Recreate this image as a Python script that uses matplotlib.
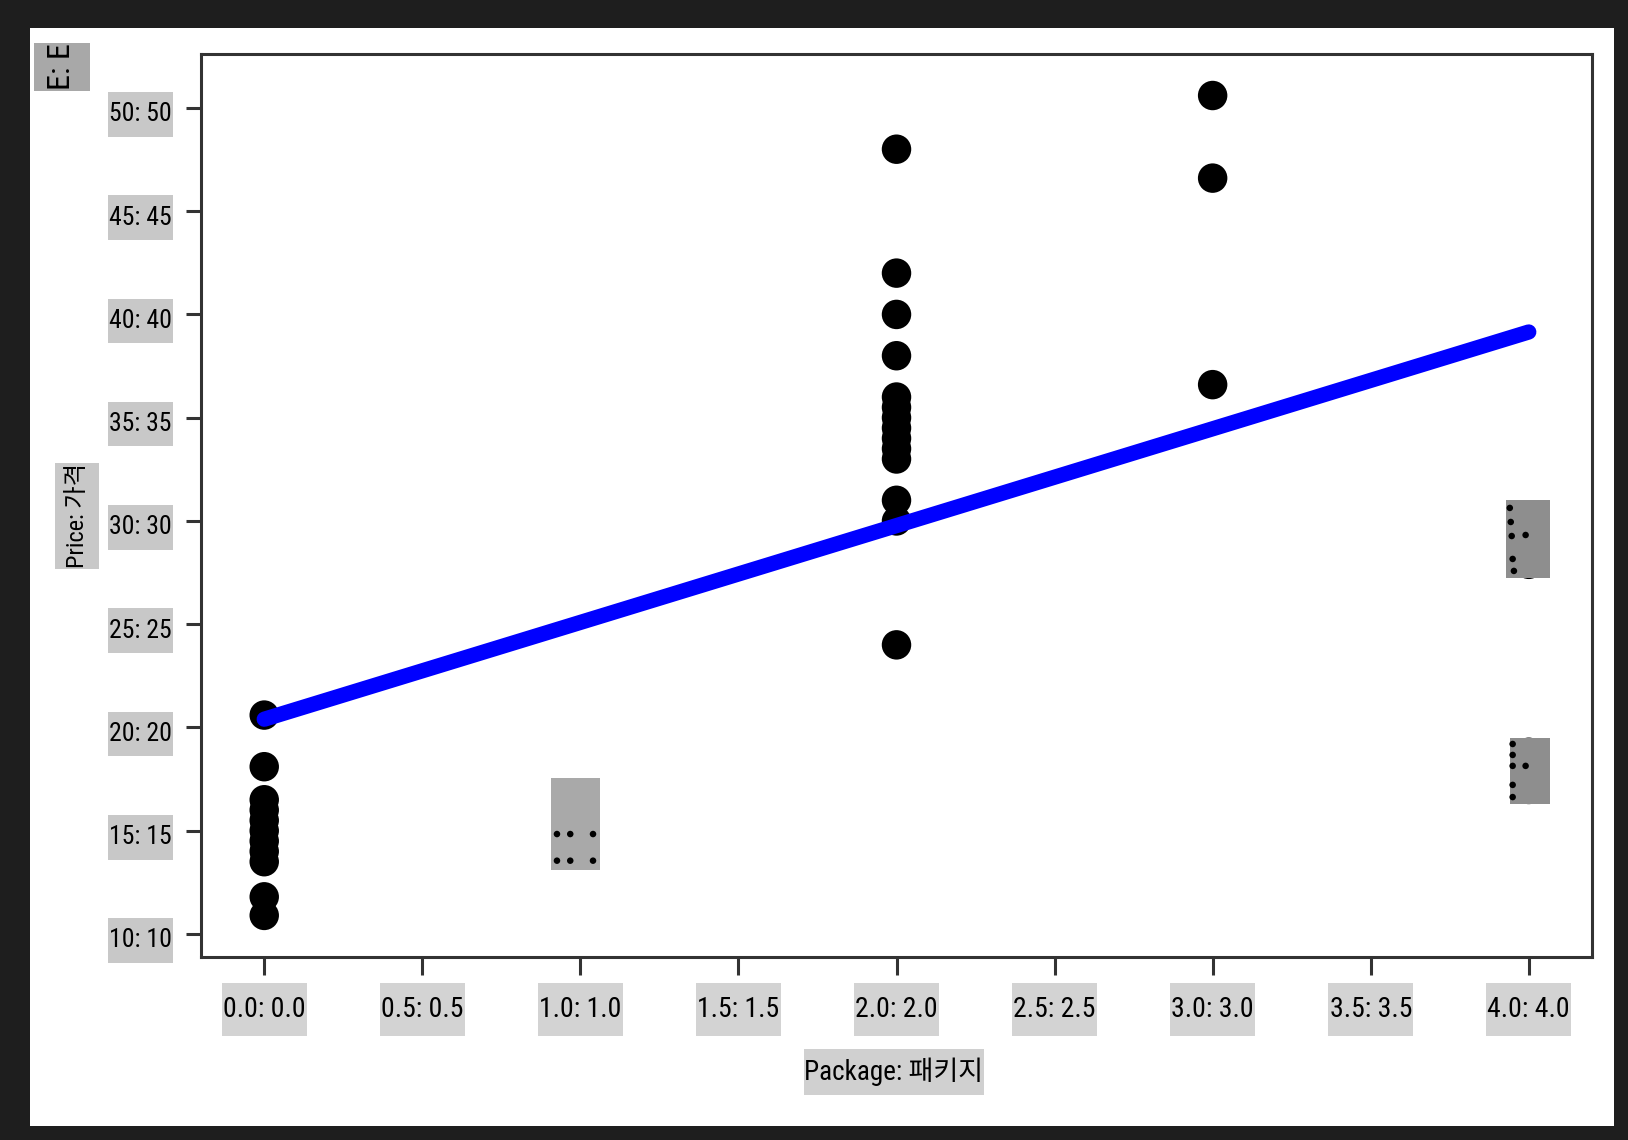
import logging
import matplotlib
matplotlib.use("Agg")
import matplotlib.pyplot as plt
from matplotlib import font_manager as fm
from matplotlib import transforms as mtransforms
from matplotlib.patches import Rectangle
from matplotlib.path import Path

logging.getLogger("matplotlib.font_manager").setLevel(logging.ERROR)

# ---------------- data ----------------
price_pkg0 = [20.6, 18.1, 16.5, 16.0, 15.5, 15.0, 14.5, 14.0, 13.5, 11.8, 10.9]
price_pkg1 = [15.5, 14.5]
price_pkg2 = [48.0, 42.0, 40.0, 38.0, 36.0, 35.5, 35.0, 34.5, 34.0, 33.5, 33.0, 31.0, 30.0, 24.0]
price_pkg3 = [50.6, 46.6, 36.6]
price_pkg4 = [30.0, 29.0, 27.9, 18.8, 18.0, 17.0]
package_levels = [0.0, 1.0, 2.0, 3.0, 4.0]

fit_x = [0.0, 4.0]
fit_y = [20.4, 39.15]

xticks = [0.0, 0.5, 1.0, 1.5, 2.0, 2.5, 3.0, 3.5, 4.0]
xtick_labels = ["0.0: 0.0", "0.5: 0.5", "1.0: 1.0", "1.5: 1.5", "2.0: 2.0",
                "2.5: 2.5", "3.0: 3.0", "3.5: 3.5", "4.0: 4.0"]
yticks = [10, 15, 20, 25, 30, 35, 40, 45, 50]
ytick_labels = ["10: 10", "15: 15", "20: 20", "25: 25", "30: 30",
                "35: 35", "40: 40", "45: 45", "50: 50"]

x_label = "Package: 패키지"
y_label = "Price: 가격"
corner_label = "E: E"

# overlay boxes (translation artifacts) in data units: x0, x1, y0, y1
overlay_box_x0 = [0.907, 3.927, 3.940]
overlay_box_x1 = [1.062, 4.066, 4.066]
overlay_box_y0 = [13.1, 27.24, 16.3]
overlay_box_y1 = [17.55, 31.02, 19.49]
overlay_box_col = ["#a9a9a9", "#8e8e8e", "#8e8e8e"]
overlay_dot_x = [0.926, 0.968, 1.040, 0.926, 0.968, 1.040,
                 3.940, 3.943, 3.946, 3.990, 3.949, 3.953,
                 3.949, 3.949, 3.949, 3.990, 3.949, 3.949]
overlay_dot_y = [14.84, 14.84, 14.84, 13.55, 13.55, 13.55,
                 30.63, 29.95, 29.27, 29.32, 28.16, 27.58,
                 19.20, 18.67, 18.14, 18.14, 17.22, 16.63]

# ---------------- fonts ----------------
names = {f.name for f in fm.fontManager.ttflist}
narrow = None
stretch = "normal"
for cand in ["Liberation Sans Narrow", "DejaVu Sans Condensed", "Roboto Condensed",
             "Open Sans Condensed", "Noto Sans Condensed"]:
    if cand in names:
        narrow = cand
        break
if narrow is None:
    for f in fm.fontManager.ttflist:
        if (f.name in ("Noto Sans", "Open Sans", "Roboto", "DejaVu Sans")
                and str(f.stretch) in ("condensed", "semi-condensed", "extra-condensed")
                and f.style == "normal" and str(f.weight) in ("400", "normal", "regular")):
            narrow = f.name
            stretch = f.stretch
            break
if narrow is None:
    narrow = "DejaVu Sans"
    scale = 0.75
else:
    scale = 1.0
fam = [narrow, "Noto Sans CJK KR", "DejaVu Sans"]


def fp(size):
    return fm.FontProperties(family=fam, stretch=stretch, size=size * scale)


class PadBox:
    """Rectangular box with separate horizontal / vertical padding
    (fractions of the font size)."""

    def __init__(self, px, py):
        self.px = px
        self.py = py

    def __call__(self, x0, y0, width, height, mutation_size):
        dx = self.px * mutation_size
        dy = self.py * mutation_size
        x0, y0 = x0 - dx, y0 - dy
        x1, y1 = x0 + width + 2 * dx, y0 + height + 2 * dy
        return Path([(x0, y0), (x1, y0), (x1, y1), (x0, y1), (x0, y0)],
                    closed=True)


def box(color, px, py):
    return dict(boxstyle=PadBox(px, py), facecolor=color, edgecolor="none")


# ---------------- figure ----------------
W, H = 1628, 1140
fig = plt.figure(figsize=(W / 100, H / 100), dpi=100, facecolor="#1e1e1e")
fig.add_artist(Rectangle((30 / W, 1 - 1126 / H), (1614 - 30) / W, (1126 - 28) / H,
                         transform=fig.transFigure, facecolor="white",
                         edgecolor="none", zorder=0))

ax = fig.add_axes([201 / W, 1 - 957 / H, (1592 - 201) / W, (957 - 54) / H])
ax.set_facecolor("white")

packages = []
prices = []
for lvl, vals in zip(package_levels, [price_pkg0, price_pkg1, price_pkg2, price_pkg3, price_pkg4]):
    packages += [lvl] * len(vals)
    prices += vals

ax.scatter(packages, prices, s=450, c="black", edgecolors="none", zorder=3)
ax.plot(fit_x, fit_y, color="blue", lw=11, solid_capstyle="round", zorder=4)

for x0, x1, y0, y1, col in zip(overlay_box_x0, overlay_box_x1, overlay_box_y0,
                               overlay_box_y1, overlay_box_col):
    ax.add_patch(Rectangle((x0, y0), x1 - x0, y1 - y0, facecolor=col,
                           edgecolor="none", zorder=5))
ax.scatter(overlay_dot_x, overlay_dot_y, s=22, c="black", edgecolors="none", zorder=6)

ax.set_xlim(-0.2, 4.2)
ax.set_ylim(8.886, 52.61)

for sp in ax.spines.values():
    sp.set_linewidth(2.2)
    sp.set_color("#333333")

ax.set_xticks(xticks)
ax.set_xticklabels(xtick_labels, fontproperties=fp(20))
ax.set_yticks(yticks)
ax.set_yticklabels(ytick_labels, fontproperties=fp(18.5))
ax.tick_params(axis="x", direction="out", length=13, width=2.2, color="#333333", pad=15)
ax.tick_params(axis="y", direction="out", length=11, width=2.2, color="#333333", pad=10)

for lab in ax.get_xticklabels():
    lab.set_bbox(box("#d3d3d3", 0.04, 0.48))
ydown = mtransforms.ScaledTranslation(0, -4 / 100, fig.dpi_scale_trans)
for lab in ax.get_yticklabels():
    lab.set_bbox(box("#c8c8c8", 0.04, 0.40))
    lab.set_transform(lab.get_transform() + ydown)

ax.set_xlabel(x_label, fontproperties=fp(19.5), va="center",
              bbox=box("#d0d0d0", 0.03, 0.32))
ax.xaxis.set_label_coords((894 - 201) / (1592 - 201), (957 - 1072) / (957 - 54))
ax.set_ylabel(y_label, fontproperties=fp(17.5), va="center",
              bbox=box("#c8c8c8", 0.04, 0.42))
ax.yaxis.set_label_coords((77 - 201) / (1592 - 201), (957 - 516) / (957 - 54))

fig.text(62 / W, 1 - 67 / H, corner_label, rotation=90, ha="center", va="center",
         fontproperties=fp(23), bbox=box("#a8a8a8", 0.03, 0.42))

fig.savefig("out.png", dpi=100, facecolor=fig.get_facecolor())
